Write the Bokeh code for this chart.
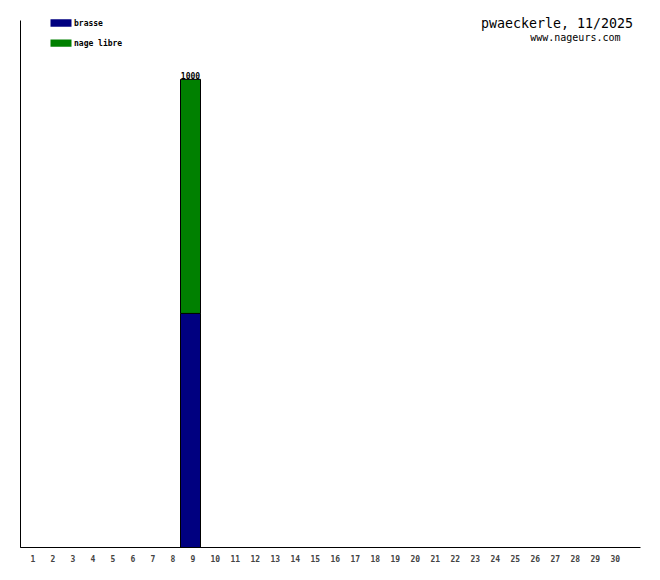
from bokeh.plotting import figure
from bokeh.models import (ColumnDataSource, FixedTicker, LabelSet, Label,
                          BoxAnnotation, Range1d, CustomJSTickFormatter)
from bokeh.core.properties import value
from bokeh.embed import file_html
from bokeh.resources import INLINE

# ---- data ----
days = list(range(1, 31))
brasse = [0] * 30
nage_libre = [0] * 30
brasse[8] = 500
nage_libre[8] = 500
tick_labels = [str(d) for d in days]
series_names = ["brasse", "nage libre"]
series_colors = ["#000080", "#008000"]
title_text = "pwaeckerle, 11/2025"
subtitle_text = "www.nageurs.com"

totals = [b + n for b, n in zip(brasse, nage_libre)]

# ---- layout ----
W, H = 644, 564
BL, BR, BT, BB = 20, 4, 2, 9
FW = W - BL - BR
FH = H - BT - BB
AXIS_TOP = 20          # px where the visible y axis line starts
TOP_LEVEL_PX = 80      # px where the 1000 level sits
X0, X1 = 0.5, 31.5
Y0 = 0
Y1 = 1000 * FH / (FH - (TOP_LEVEL_PX - BT))

MONO = "DejaVu Sans Mono"

p = figure(width=W, height=H, output_backend="svg", toolbar_location=None,
           x_range=Range1d(X0, X1), y_range=Range1d(Y0, Y1),
           min_border_left=BL, min_border_right=BR,
           min_border_top=BT, min_border_bottom=BB)
p.outline_line_color = None
p.xgrid.visible = False
p.ygrid.visible = False
p.background_fill_color = "white"
p.border_fill_color = "white"


def sx(px):  # figure px -> data x
    return X0 + (px - BL) / FW * (X1 - X0)


def sy(py):  # figure px (from top) -> data y
    return Y1 - (py - BT) / FH * (Y1 - Y0)


src = ColumnDataSource(dict(day=days, brasse=brasse, nage_libre=nage_libre))
p.vbar_stack(["brasse", "nage_libre"], x="day", width=1.0, source=src,
             fill_color=series_colors, line_color="black", line_width=1)

# value labels
lab_days = [d for d, t in zip(days, totals) if t > 0]
lab_tot = [t for t in totals if t > 0]
lsrc = ColumnDataSource(dict(x=lab_days, y=lab_tot, t=[str(t) for t in lab_tot]))
p.add_layout(LabelSet(x="x", y="y", text="t", source=lsrc, text_align="center",
                      text_baseline="bottom", y_offset=0,
                      text_font=value(MONO), text_font_size=value("8px"),
                      text_font_style="bold", text_color="black"))

# axes: labels left-aligned on the day centre -> shift tick by half label width
label_w = 4.8  # px per character at 8px mono
tick_pos = [d + (len(l) * label_w / 2) / (FW / (X1 - X0)) for d, l in zip(days, tick_labels)]
p.xaxis.ticker = FixedTicker(ticks=tick_pos)
p.xaxis.formatter = CustomJSTickFormatter(args=dict(labels=tick_labels),
                                          code="return labels[Math.round(tick) - 1];")
p.xaxis.major_tick_line_color = None
p.xaxis.minor_tick_line_color = None
p.xaxis.major_label_standoff = 1
p.xaxis.major_label_text_font = MONO
p.xaxis.major_label_text_font_size = "8px"
p.xaxis.major_label_text_font_style = "bold"
p.xaxis.axis_line_color = "black"
p.yaxis.ticker = FixedTicker(ticks=[])
p.yaxis.major_tick_line_color = None
p.yaxis.minor_tick_line_color = None
p.yaxis.axis_line_color = "black"
p.yaxis.bounds = (Y0, sy(AXIS_TOP))

# legend swatches
for i, (name, col) in enumerate(zip(series_names, series_colors)):
    top = 19 + 20.5 * i
    p.add_layout(BoxAnnotation(left=sx(50), right=sx(71), top=sy(top), bottom=sy(top + 7.5),
                               fill_color=col, fill_alpha=1, line_color=None))
    p.add_layout(Label(x=sx(73.5), y=sy(top + 4), text=name, text_baseline="middle",
                       text_font=MONO, text_font_size="8px", text_font_style="bold",
                       text_color="black"))

# title
p.add_layout(Label(x=sx(632.5), y=sy(23.5), text=title_text, text_align="right",
                   text_baseline="alphabetic", text_font=MONO, text_font_size="13.3px",
                   text_color="black"))
p.add_layout(Label(x=sx(620), y=sy(37.5), text=subtitle_text, text_align="right",
                   text_baseline="middle", text_font=MONO, text_font_size="10px",
                   text_color="black"))

open("out.html", "w").write(file_html(p, INLINE))
